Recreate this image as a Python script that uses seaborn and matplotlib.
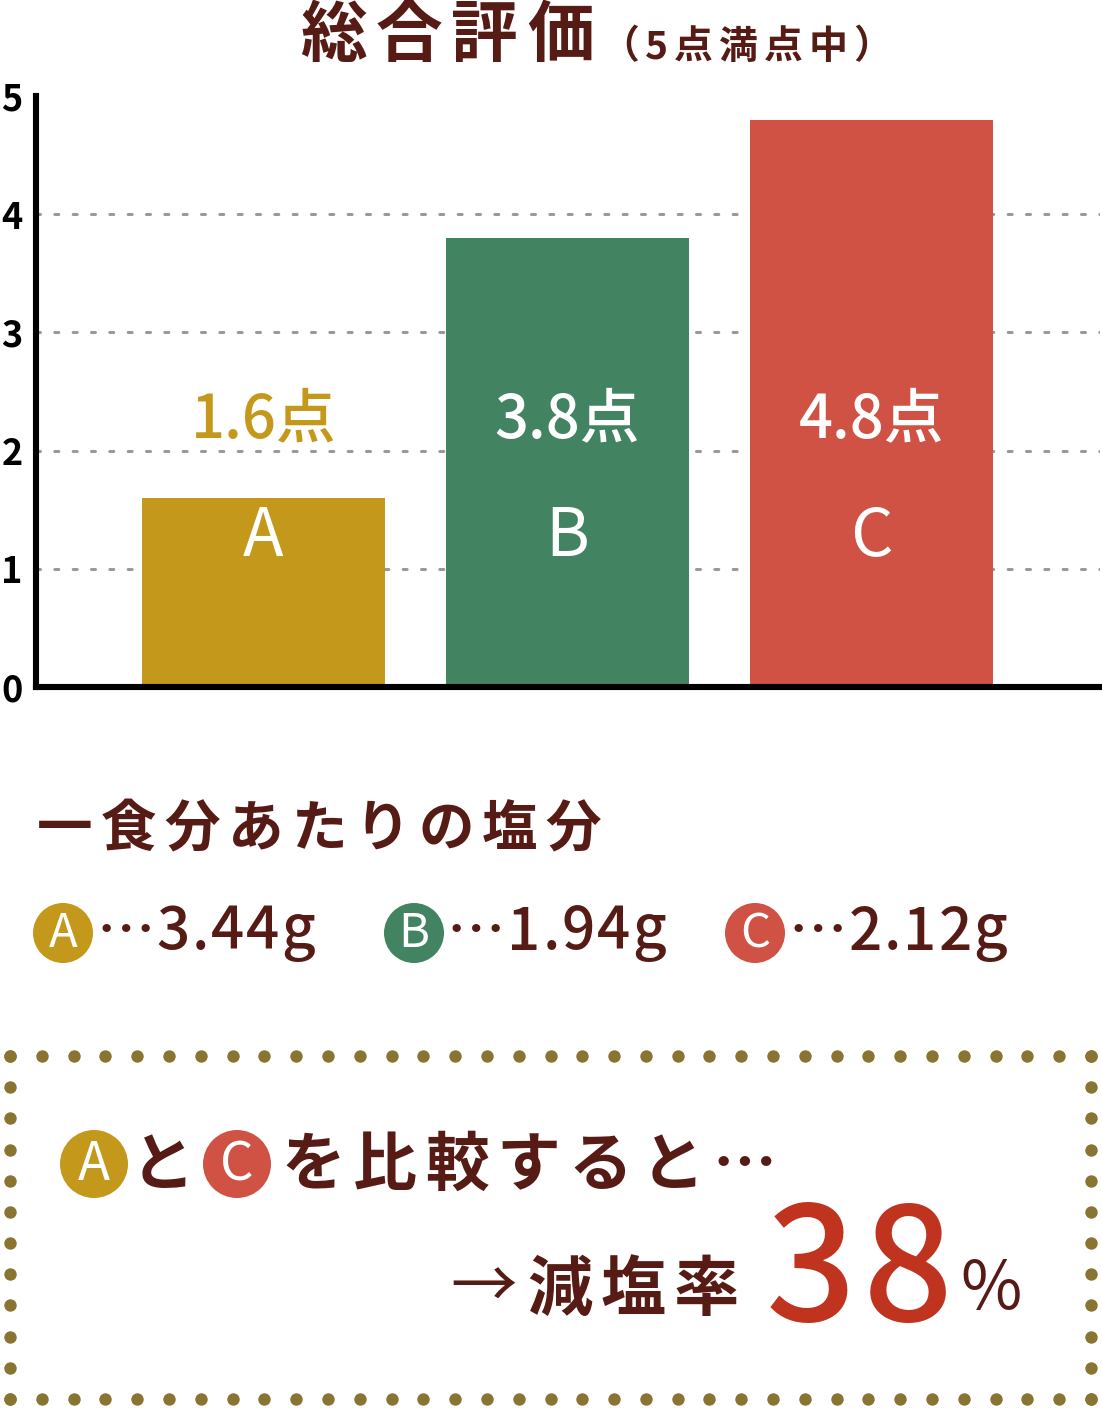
import numpy as np
import matplotlib
matplotlib.use('Agg')
import matplotlib.pyplot as plt
import seaborn as sns
from matplotlib.patches import Circle

# データ
products = ['A', 'B', 'C']
scores = [1.6, 3.8, 4.8]
salt_g = [3.44, 1.94, 2.12]
reduction_pct = 38
bar_colors = ['#C4981A', '#428461', '#D05244']

BROWN = '#561B14'
DOT = '#8A7431'

sns.set_theme(style='white')
plt.rcParams['font.family'] = ['Noto Sans CJK JP', 'DejaVu Sans']

fig = plt.figure(figsize=(11.02, 14.08), dpi=100)

# 総合評価の棒グラフ
ax = fig.add_axes([36 / 1102, (1408 - 687) / 1408, 1064 / 1102, 591 / 1408])
sns.barplot(x=products, y=scores, hue=products, palette=bar_colors, width=0.8,
            saturation=1, legend=False, linewidth=0, ax=ax)
ax.set_xlim(-0.748, 2.752)
ax.set_ylim(0, 5)
ax.set_yticks(range(6))
ax.set_xticks([])
ax.set_xlabel('')
ax.set_ylabel('')
ax.tick_params(axis='y', length=0, pad=9.5, labelsize=26)
for lbl in ax.get_yticklabels():
    lbl.set_fontweight('bold')
    lbl.set_color('black')
sns.despine(ax=ax)
for side in ['left', 'bottom']:
    ax.spines[side].set_color('black')
    ax.spines[side].set_linewidth(4.4)
ax.set_axisbelow(True)
ax.grid(axis='y', color='#999999', linewidth=2.2, linestyle=(0, (1.3, 4.7)),
        dash_capstyle='round')
ax.grid(axis='x', visible=False)
gl = ax.get_ygridlines()
gl[0].set_visible(False)
gl[-1].set_visible(False)

for i, (p, s) in enumerate(zip(products, scores)):
    col = 'white' if s > 2.5 else bar_colors[i]
    ax.text(i, 2.26, f'{s}点', ha='center', va='center', fontsize=43,
            color=col, fontweight='medium')
    ax.text(i, 1.27, p, ha='center', va='center', fontsize=48,
            color='white', fontweight='normal')

# 文字を配置するための全面レイヤー（1単位 = 1px）
ov = fig.add_axes([0, 0, 1, 1])
ov.set_xlim(0, 1102)
ov.set_ylim(1408, 0)
ov.axis('off')
ov.patch.set_visible(False)

renderer = fig.canvas.get_renderer()


def spaced_text(x, y, s, size, gap, color, weight='bold', ha='left'):
    arts = [ov.text(0, y, ch, fontsize=size, color=color, fontweight=weight,
                    ha='left', va='center') for ch in s]
    widths = [a.get_window_extent(renderer).width for a in arts]
    total = sum(widths) + gap * (len(s) - 1)
    if ha == 'center':
        x -= total / 2
    elif ha == 'right':
        x -= total
    for a, w in zip(arts, widths):
        a.set_x(x)
        x += w + gap
    return x - gap


def badge(x, y, r, letter, color, size):
    ov.add_patch(Circle((x, y), r, color=color, lw=0))
    ov.text(x, y + 1, letter, ha='center', va='center', fontsize=size,
            color='white', fontweight='normal')


# タイトル
spaced_text(300, 36, '総合評価', 48, 9, BROWN)
spaced_text(600, 47, '（5点満点中）', 28, 6, BROWN)

# 一食分あたりの塩分
spaced_text(37, 830, '一食分あたりの塩分', 40, 8, BROWN)
badge_x = [63, 414, 755]
for bx, p, g, c in zip(badge_x, products, salt_g, bar_colors):
    badge(bx, 933, 30, p, c, 34)
    spaced_text(bx + 33, 933, f'…{g:.2f}g', 42, 2, BROWN, weight='medium')

# 比較ボックスの点線枠
xs = np.linspace(10, 1091, 35)
ys = np.linspace(1056, 1399, 12)
ov.scatter(xs, np.full_like(xs, 1056), s=80, color=DOT, lw=0)
ov.scatter(xs, np.full_like(xs, 1399), s=80, color=DOT, lw=0)
ov.scatter(np.full_like(ys, 10), ys, s=80, color=DOT, lw=0)
ov.scatter(np.full_like(ys, 1091), ys, s=80, color=DOT, lw=0)

badge(94, 1164, 34, 'A', bar_colors[0], 38)
spaced_text(163, 1166, 'と', 46, 0, BROWN, ha='center')
badge(237, 1164, 34, 'C', bar_colors[2], 38)
spaced_text(281, 1166, 'を比較すると…', 46, 8, BROWN)

spaced_text(450, 1290, '→', 48, 0, BROWN, weight='normal')
spaced_text(527, 1290, '減塩率', 47, 8, BROWN)
end = spaced_text(766, 1276, str(reduction_pct), 114, 6, '#C0341F', weight='medium')
spaced_text(end + 8, 1290, '%', 48, 0, BROWN, weight='normal')

fig.savefig('out.png', dpi=100, facecolor='white')
